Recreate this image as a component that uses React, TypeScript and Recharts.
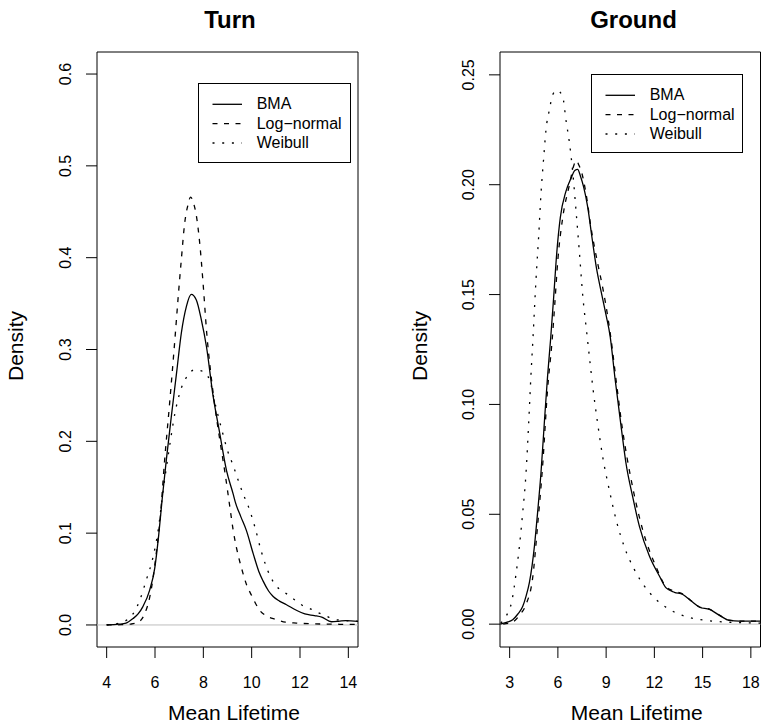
import React from 'react';
import { LineChart, Line, XAxis, YAxis, ReferenceLine, ReferenceArea, Legend } from 'recharts';

const FONT = '"Liberation Sans", Arial, Helvetica, sans-serif';

const seriesNames = ['BMA', 'Log\u2212normal', 'Weibull'];
const panelTitles = ['Turn', 'Ground'];
const xAxisTitle = 'Mean Lifetime';
const yAxisTitle = 'Density';

const turnXTicks = [4, 6, 8, 10, 12, 14];
const turnYTicks = [0, 0.1, 0.2, 0.3, 0.4, 0.5, 0.6];
const groundXTicks = [3, 6, 9, 12, 15, 18];
const groundYTicks = [0, 0.05, 0.1, 0.15, 0.2, 0.25];

// Turn panel: [mean lifetime, density]
const turnBMA = [
  [4.0, 0], [4.5, 0.0008], [4.8, 0.002], [5.09, 0.007], [5.3, 0.012], [5.5, 0.02], [5.78, 0.038],
  [5.99, 0.062], [6.15, 0.097], [6.3, 0.138], [6.47, 0.18], [6.68, 0.228], [6.89, 0.274], [7.09, 0.318],
  [7.3, 0.347], [7.5, 0.36], [7.71, 0.354], [7.92, 0.332], [8.13, 0.303], [8.4, 0.25], [8.67, 0.21],
  [8.96, 0.168], [9.23, 0.143], [9.32, 0.134], [9.55, 0.118], [9.78, 0.103], [10.06, 0.078], [10.3, 0.058],
  [10.47, 0.048], [10.7, 0.037], [10.89, 0.031], [11.15, 0.026], [11.44, 0.022], [11.85, 0.016],
  [12.2, 0.012], [12.6, 0.0102], [12.9, 0.0085], [13.3, 0.0035], [13.6, 0.004], [13.9, 0.0048], [14.4, 0.004],
];
const turnLogNormal = [
  [4.0, 0], [4.6, 0.0003], [5.0, 0.001], [5.2, 0.002], [5.37, 0.004], [5.57, 0.012], [5.78, 0.03],
  [5.92, 0.051], [6.06, 0.08], [6.2, 0.112], [6.4, 0.18], [6.6, 0.24], [6.82, 0.31], [6.95, 0.354],
  [7.09, 0.398], [7.23, 0.438], [7.37, 0.458], [7.47, 0.466], [7.6, 0.459], [7.71, 0.446], [7.85, 0.416],
  [7.99, 0.372], [8.14, 0.318], [8.3, 0.276], [8.49, 0.236], [8.69, 0.2], [8.9, 0.165], [9.1, 0.128],
  [9.23, 0.104], [9.38, 0.083], [9.58, 0.062], [9.8, 0.043], [10.0, 0.032], [10.33, 0.016], [10.6, 0.01],
  [11.0, 0.006], [11.4, 0.003], [11.85, 0.002], [12.5, 0.0013], [13.5, 0.0008], [14.4, 0.0005],
];
const turnWeibull = [
  [4.0, 0], [4.5, 0.002], [4.81, 0.005], [5.09, 0.012], [5.37, 0.027], [5.64, 0.049], [5.92, 0.074],
  [6.13, 0.103], [6.33, 0.145], [6.6, 0.194], [6.82, 0.23], [7.09, 0.258], [7.37, 0.272], [7.64, 0.278],
  [7.99, 0.276], [8.27, 0.266], [8.47, 0.243], [8.75, 0.214], [9.0, 0.19], [9.23, 0.174], [9.45, 0.157],
  [9.64, 0.143], [9.85, 0.13], [10.13, 0.107], [10.4, 0.08], [10.75, 0.054], [11.0, 0.043], [11.2, 0.038],
  [11.5, 0.033], [11.8, 0.027], [12.06, 0.022], [12.4, 0.018], [12.75, 0.0135], [13.1, 0.0095],
  [13.44, 0.006], [13.8, 0.005], [14.4, 0.004],
];

// Ground panel
const groundBMA = [
  [2.4, 0], [2.8, 0.0008], [3.19, 0.002], [3.5, 0.0045], [3.81, 0.008], [4.03, 0.013], [4.23, 0.019],
  [4.54, 0.0354], [4.74, 0.051], [4.95, 0.069], [5.16, 0.092], [5.36, 0.113], [5.55, 0.13], [5.73, 0.148],
  [5.93, 0.169], [6.15, 0.185], [6.5, 0.197], [6.82, 0.203], [7.05, 0.2065], [7.23, 0.207], [7.4, 0.204],
  [7.6, 0.199], [7.85, 0.19], [8.1, 0.177], [8.4, 0.162], [8.7, 0.151], [9.0, 0.1405], [9.25, 0.131],
  [9.55, 0.112], [9.93, 0.09], [10.24, 0.073], [10.65, 0.058], [11.07, 0.0445], [11.69, 0.031],
  [12.32, 0.0218], [12.73, 0.0165], [13.25, 0.0145], [13.77, 0.0135], [14.29, 0.0105], [14.81, 0.0077],
  [15.43, 0.0067], [16.05, 0.004], [16.67, 0.0017], [17.29, 0.0014], [18.6, 0.0014],
];
const groundLogNormal = [
  [2.6, 0], [3.2, 0.001], [3.6, 0.004], [4.02, 0.009], [4.43, 0.021], [4.74, 0.045], [5.05, 0.072],
  [5.36, 0.107], [5.64, 0.129], [5.8, 0.145], [6.0, 0.166], [6.3, 0.185], [6.72, 0.2], [7.0, 0.209],
  [7.15, 0.211], [7.3, 0.209], [7.44, 0.2065], [7.75, 0.196], [8.07, 0.18], [8.48, 0.164], [8.79, 0.153],
  [9.1, 0.14], [9.3, 0.13], [9.62, 0.111], [10.03, 0.088], [10.55, 0.066], [11.27, 0.043], [12.11, 0.026],
  [12.73, 0.017], [13.25, 0.015], [13.77, 0.0137], [14.29, 0.0107], [14.81, 0.0078], [15.43, 0.0068],
  [16.05, 0.0041], [16.67, 0.0018], [17.29, 0.0014], [18.6, 0.0014],
];
const groundWeibull = [
  [2.45, 0.0005], [2.78, 0.0036], [3.15, 0.011], [3.4, 0.023], [3.6, 0.035], [3.81, 0.0506], [4.02, 0.069],
  [4.18, 0.091], [4.33, 0.114], [4.45, 0.13], [4.64, 0.157], [4.8, 0.176], [4.95, 0.196], [5.12, 0.2125],
  [5.26, 0.225], [5.47, 0.234], [5.68, 0.241], [5.95, 0.243], [6.3, 0.24], [6.51, 0.229], [6.72, 0.219],
  [6.92, 0.206], [7.13, 0.188], [7.34, 0.169], [7.54, 0.15], [7.79, 0.133], [8.0, 0.119], [8.17, 0.108],
  [8.48, 0.091], [8.79, 0.076], [9.2, 0.061], [9.62, 0.0475], [10.14, 0.035], [10.76, 0.0248],
  [11.38, 0.0173], [12.11, 0.0112], [12.94, 0.0067], [13.98, 0.0034], [15.22, 0.0017], [16.88, 0.0008],
  [18.6, 0.0005],
];

const DASHES = [undefined, '5 6.5', '2 7.7'];
const toPts = (arr) => arr.map(([x, y]) => ({ x, y }));

function LegendBox({ w, h }) {
  return (
    <svg width={w + 1} height={h + 1} style={{ display: 'block', overflow: 'visible' }}>
      <rect x={0.5} y={0.5} width={w} height={h} fill="#fff" stroke="#000" strokeWidth={1} />
      {seriesNames.map((name, i) => (
        <g key={name}>
          <line x1={14.5} x2={44} y1={21.3 + 19.35 * i} y2={21.3 + 19.35 * i} stroke="#000" strokeWidth={1.3}
            strokeDasharray={DASHES[i]} />
          <text x={58.7} y={26.3 + 19.35 * i} fontSize={16} fontFamily={FONT} fill="#000">{name}</text>
        </g>
      ))}
    </svg>
  );
}

function Panel({ left, width, margin, xDomain, yDomain, xTicks, yTicks, yDigits, series, legend, yTitleDx }) {
  const xTick = (p) => (
    <text x={p.x} y={p.y + 30.3} textAnchor="middle" fontSize={16} fontFamily={FONT} fill="#000">
      {String(p.payload.value)}
    </text>
  );
  const yTick = (p) => {
    const cx = p.x - 15.3;
    const cy = p.y;
    return (
      <text x={cx} y={cy} transform={`rotate(-90, ${cx}, ${cy})`} textAnchor="middle" fontSize={16}
        fontFamily={FONT} fill="#000">
        {Number(p.payload.value).toFixed(yDigits)}
      </text>
    );
  };
  const xTitle = (props) => {
    const vb = props.viewBox || {};
    return (
      <text x={vb.x + vb.width / 2 + 6.5} y={vb.y + 72.5} textAnchor="middle" fontSize={21} fontFamily={FONT}
        fill="#000">{xAxisTitle}</text>
    );
  };
  const yTitle = (props) => {
    const vb = props.viewBox || {};
    const cx = vb.x + yTitleDx;
    const cy = vb.y + vb.height / 2 - 3.5;
    return (
      <text x={cx} y={cy} transform={`rotate(-90, ${cx}, ${cy})`} textAnchor="middle" fontSize={21}
        fontFamily={FONT} fill="#000">{yAxisTitle}</text>
    );
  };
  return (
    <div style={{ position: 'absolute', left, top: 0, width, height: 726 }}>
      <LineChart width={width} height={726} margin={margin}>
        <XAxis dataKey="x" type="number" domain={xDomain} ticks={xTicks} allowDataOverflow interval={0}
          tickSize={11} tickMargin={0} axisLine={false} tickLine={{ stroke: '#000', strokeWidth: 1 }}
          tick={xTick} height={60} label={xTitle} />
        <YAxis type="number" domain={yDomain} ticks={yTicks} allowDataOverflow interval={0}
          tickSize={11} tickMargin={0} axisLine={false} tickLine={{ stroke: '#000', strokeWidth: 1 }}
          tick={yTick} width={60} label={yTitle} />
        <ReferenceLine y={0} stroke="#bebebe" strokeWidth={1} />
        {series.map((s, i) => (
          <Line key={seriesNames[i]} name={seriesNames[i]} data={toPts(s)} dataKey="y" type="monotone"
            stroke="#000" strokeWidth={1.3} strokeDasharray={DASHES[i]} dot={false} activeDot={false}
            isAnimationActive={false} legendType="none" />
        ))}
        <ReferenceArea x1={xDomain[0]} x2={xDomain[1]} y1={yDomain[0]} y2={yDomain[1]} fill="none"
          fillOpacity={0} stroke="#000" strokeWidth={1} ifOverflow="visible" />
        <Legend layout="horizontal" verticalAlign="middle" align="center"
          wrapperStyle={{ left: legend.left, top: legend.top, width: legend.w + 1, height: legend.h + 1 }}
          content={() => <LegendBox w={legend.w} h={legend.h} />} />
      </LineChart>
    </div>
  );
}

export default function App() {
  return (
    <div style={{ position: 'absolute', left: 0, top: 0, width: 761, height: 726, background: '#fff',
      overflow: 'hidden', fontFamily: FONT }}>
      <Panel left={0} width={380} margin={{ top: 52, right: 22, bottom: 19, left: 37 }}
        xDomain={[3.6, 14.4]} yDomain={[-0.024, 0.624]} xTicks={turnXTicks} yTicks={turnYTicks} yDigits={1}
        series={[turnBMA, turnLogNormal, turnWeibull]} legend={{ left: 198, top: 83, w: 152, h: 79 }}
        yTitleDx={-14} />
      <Panel left={380} width={381} margin={{ top: 52, right: 0.5, bottom: 19, left: 60 }}
        xDomain={[2.4, 18.6]} yDomain={[-0.0104, 0.2604]} xTicks={groundXTicks} yTicks={groundYTicks} yDigits={2}
        series={[groundBMA, groundLogNormal, groundWeibull]} legend={{ left: 210.5, top: 74, w: 151, h: 78 }}
        yTitleDx={-13} />
      <svg width={761} height={40} style={{ position: 'absolute', left: 0, top: 0, pointerEvents: 'none' }}>
        <text x={230} y={28.3} textAnchor="middle" fontSize={24} fontWeight="bold" fontFamily={FONT}
          fill="#000">{panelTitles[0]}</text>
        <text x={633.5} y={28.3} textAnchor="middle" fontSize={24} fontWeight="bold" fontFamily={FONT}
          fill="#000">{panelTitles[1]}</text>
      </svg>
    </div>
  );
}
